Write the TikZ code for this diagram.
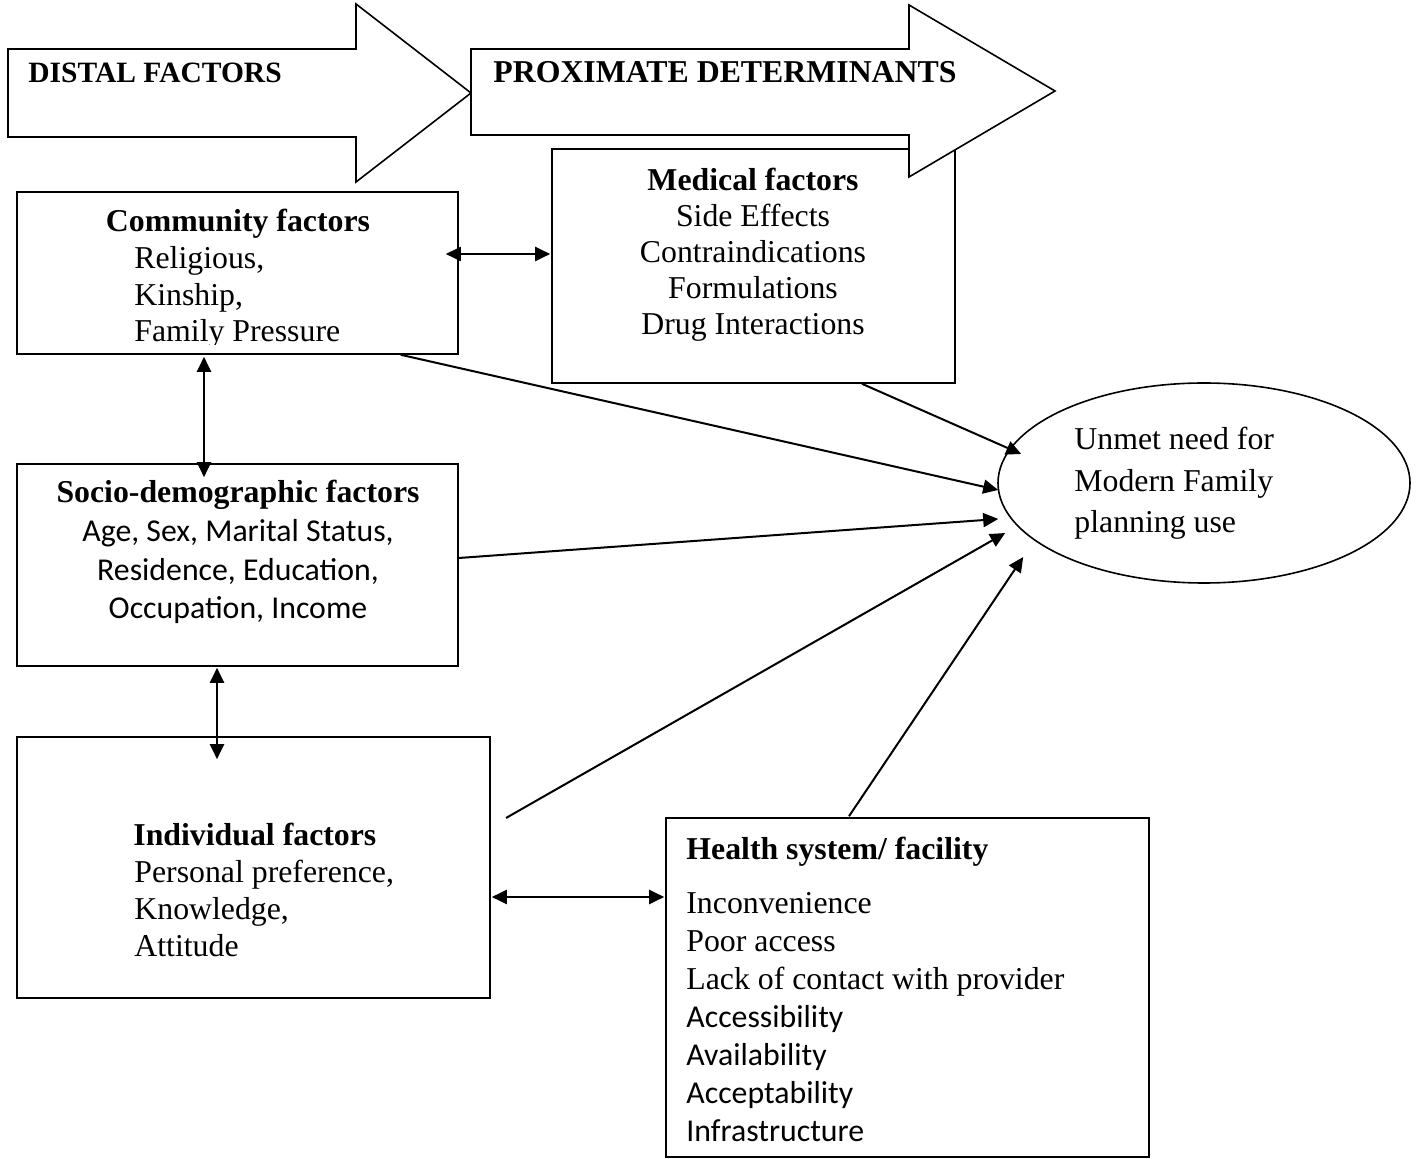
\documentclass[tikz,border=0pt]{standalone}
\usepackage{fontspec}
\setmainfont{Liberation Serif}
\newfontfamily\calibri{Carlito}
\usetikzlibrary{arrows.meta,shapes.geometric,fit}
\begin{document}
\begin{tikzpicture}[x=0.5pt,y=-0.5pt,
  shapeline/.style={line width=0.8pt},
  factorbox/.style={draw,shapeline,fill=white,inner sep=0pt},
  blockarrow/.style={draw,shapeline,fill=white},
  ltext/.style={inner sep=0pt,align=left,anchor=base west},
  ctext/.style={inner sep=0pt,align=center,anchor=base},
  link/.style={line width=1pt,-{Triangle[length=7.5pt,width=7pt]}},
  dlink/.style={line width=1pt,{Triangle[length=7.5pt,width=7pt]}-{Triangle[length=7.5pt,width=7pt]}}
]
\fill[white] (0,0) rectangle (1419,1159);
\useasboundingbox (0,0) rectangle (1419,1159);

% boxes
\node[factorbox,fit={(17,192)(458,354)}] (comm) {};
\node[factorbox,fit={(17,464)(458,666)}] (socio) {};
\node[factorbox,fit={(17,737)(490,998)}] (indiv) {};
\node[factorbox,fit={(552,149)(955,383)}] (med) {};
\node[factorbox,fit={(666,818)(1149,1157)}] (health) {};
\node[draw,shapeline,ellipse,inner sep=0pt,minimum width=206pt,minimum height=100pt] (un) at (1204,483) {};

% block arrows
\draw[blockarrow] (8,49) -- (356,49) -- (356,4) -- (471,93) -- (356,182) -- (356,137) -- (8,137) -- cycle;
\draw[blockarrow] (471,49) -- (909,49) -- (909,5) -- (1055,91) -- (909,177) -- (909,135) -- (471,135) -- cycle;
\node[ltext,font=\fontsize{14.75}{17}\selectfont\bfseries] (distal) at (28,83) {DISTAL FACTORS};
\node[ltext,font=\fontsize{15.9}{18}\selectfont\bfseries] (prox) at (493,83) {PROXIMATE DETERMINANTS};

% texts (base anchor = baseline of the last line)
\node[ctext,font=\fontsize{15.9}{18}\selectfont\bfseries] (commhead) at (238,232) {Community factors};
\begin{scope}
\clip (17,192) rectangle (458,344.5);
\node[ltext,font=\fontsize{15.9}{18.4}\selectfont] (commlist) at (134,342) {Religious,\\Kinship,\\Family Pressure};
\end{scope}

\node[ctext,font=\fontsize{15.9}{18}\selectfont\bfseries] (sociohead) at (238,503) {Socio-demographic factors};
\node[ctext,font=\fontsize{15.9}{19.3}\selectfont\calibri] (sociolist) at (238,619) {Age, Sex, Marital Status,\\Residence, Education,\\Occupation, Income};

\node[ctext,font=\fontsize{15.9}{18}\selectfont\bfseries] (medhead) at (753,191) {Medical factors};
\node[ctext,font=\fontsize{15.9}{18}\selectfont] (medlist) at (753,335) {Side Effects\\Contraindications\\Formulations\\Drug Interactions};

\node[ltext,font=\fontsize{15.9}{18}\selectfont\bfseries] (indivhead) at (133,845) {Individual factors};
\node[ltext,font=\fontsize{15.9}{18.5}\selectfont] (indivlist) at (134,956) {Personal preference,\\Knowledge,\\Attitude};

\node[ltext,font=\fontsize{15.9}{18}\selectfont\bfseries] (healthhead) at (686,859) {Health system/ facility};
\node[ltext,font=\fontsize{15.9}{19}\selectfont] (healthlist) at (686,1141) {Inconvenience\\Poor access\\Lack of contact with provider\\{\calibri Accessibility}\\{\calibri Availability}\\{\calibri Acceptability}\\{\calibri Infrastructure}};

\node[ltext,font=\fontsize{15.9}{20.75}\selectfont] (untext) at (1074,533) {Unmet need for\\Modern Family\\planning use};

% connectors
\draw[dlink] ([shift={(-13,-19)}]comm.east) -- ([shift={(-1,-12)}]med.west);
\draw[dlink] ([shift={(-33.5,2)}]comm.south) -- ([shift={(-33.5,14)}]socio.north);
\draw[dlink] ([shift={(-20.5,1)}]socio.south) -- ([shift={(-36.5,23)}]indiv.north);
\draw[dlink] ([shift={(1,29.5)}]indiv.east) -- ([shift={(-1,-90.5)}]health.west);

\coordinate (indivfree) at (506,818);
\draw[link] ([shift={(108.5,0)}]med.south) -- ([shift={(24,-29)}]un.west);
\draw[link] ([shift={(-58,0)}]comm.south east) -- ([shift={(1,7)}]un.west);
\draw[link] ([shift={(0,-7)}]socio.east) -- ([shift={(1,36)}]un.west);
\draw[link] (indivfree) -- ([shift={(8,50)}]un.west);
\draw[link] ([shift={(-58.5,-1)}]health.north) -- ([shift={(26,74)}]un.west);
\end{tikzpicture}
\end{document}
